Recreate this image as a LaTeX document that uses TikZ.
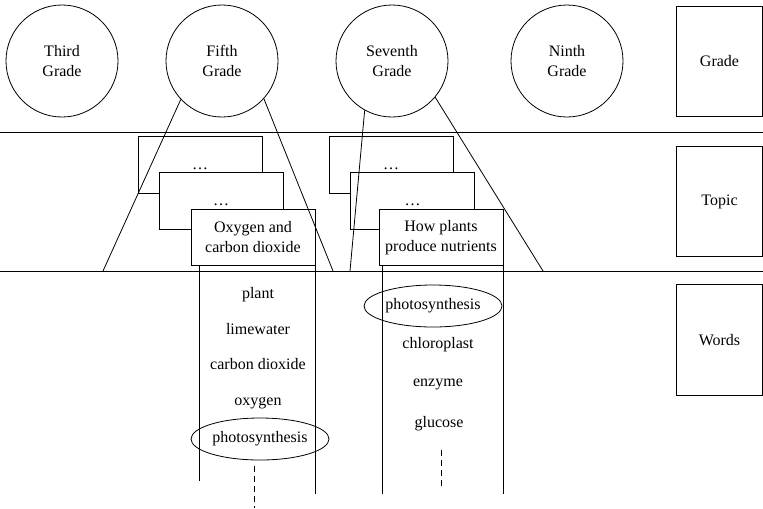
\documentclass[tikz,border=0pt]{standalone}
\usepackage{fontspec}
\setmainfont{Liberation Serif}
\usetikzlibrary{shapes.geometric}
\tikzset{
  gradering/.style={draw, circle, minimum size=84pt, inner sep=0pt, align=center},
  rowbox/.style={draw, minimum width=64.5pt, minimum height=83pt, inner sep=0pt},
  topicbox/.style={draw, fill=white, minimum width=93pt, minimum height=42.5pt, inner sep=1pt, align=center},
  wordnode/.style={inner sep=1pt, text height=8pt, text depth=3pt},
  wordring/.style={draw, ellipse, minimum width=103.5pt, minimum height=31.5pt, inner sep=0pt, text height=8pt, text depth=3pt},
  wordgap/.style={dash pattern=on 4.5pt off 3pt}
}
\begin{document}
\begin{tikzpicture}[x=0.75pt, y=-0.75pt, line width=0.6pt, font=\fontsize{12}{15}\selectfont]
    \newcommand{\sepA}{132}
    \newcommand{\sepB}{271}
    \useasboundingbox (0,0) rectangle (763,508);
    % grades
    \node[gradering] (third) at (62,61) {Third\\Grade};
    \node[gradering] (fifth) at (222,61) {Fifth\\Grade};
    \node[gradering] (seventh) at (392,61) {Seventh\\Grade};
    \node[gradering] (ninth) at (567,61) {Ninth\\Grade};
    \node[rowbox] (grade) at (719.5,61.5) {Grade};
    \node[rowbox] (topic) at (719.5,201.5) {Topic};
    \node[rowbox] (words) at (719.5,340) {Words};
    \coordinate (sepAl) at (0,\sepA);
    \coordinate (sepAr) at (763,\sepA);
    \coordinate (sepBl) at (0,\sepB);
    \coordinate (sepBr) at (763,\sepB);
    \draw (sepAl) -- (sepAr);
    \draw (sepBl) -- (sepBr);
    % topics
    \node[topicbox] (f5a) at (200,165) {\strut\dots};
    \node[topicbox] (f5b) at (221,201) {\strut\dots};
    \node[topicbox] (f5c) at (253,237.5) {Oxygen and\\carbon dioxide};
    \node[topicbox] (s7a) at (391,165) {\strut\dots};
    \node[topicbox] (s7b) at (412.5,201) {\strut\dots};
    \node[topicbox] (s7c) at (441,237.5) {How plants\\produce nutrients};
    \coordinate (f5l) at (103,\sepB);
    \coordinate (f5r) at (333,\sepB);
    \coordinate (s7l) at (350,\sepB);
    \coordinate (s7r) at (543,\sepB);
    \draw (fifth.223) -- (f5l);
    \draw (fifth.318) -- (f5r);
    \draw (seventh.241) -- (s7l);
    \draw (seventh.320) -- (s7r);
    % word columns
    \draw ([xshift=6.75pt]f5c.south west) -- ++(0,215);
    \draw (f5c.south east) -- ++(0,228);
    \draw ([xshift=3pt]s7c.south west) -- ++(0,228);
    \draw (s7c.south east) -- ++(0,228);
    \node[wordnode] (plant) at (258,295) {plant};
    \node[wordnode] (lime) at (258,331) {limewater};
    \node[wordnode] (cdiox) at (258,366) {carbon dioxide};
    \node[wordnode] (oxy) at (258,402) {oxygen};
    \node[wordring] (f5ring) at (260,439) {photosynthesis};
    \node[wordring] (s7ring) at (433,306) {photosynthesis};
    \node[wordnode] (chloro) at (438,345) {chloroplast};
    \node[wordnode] (enz) at (438,383) {enzyme};
    \node[wordnode] (gluc) at (439,424) {glucose};
    \draw[wordgap] (254,466) -- (254,508);
    \draw[wordgap] (441,450) -- (441,490);
\end{tikzpicture}
\end{document}
